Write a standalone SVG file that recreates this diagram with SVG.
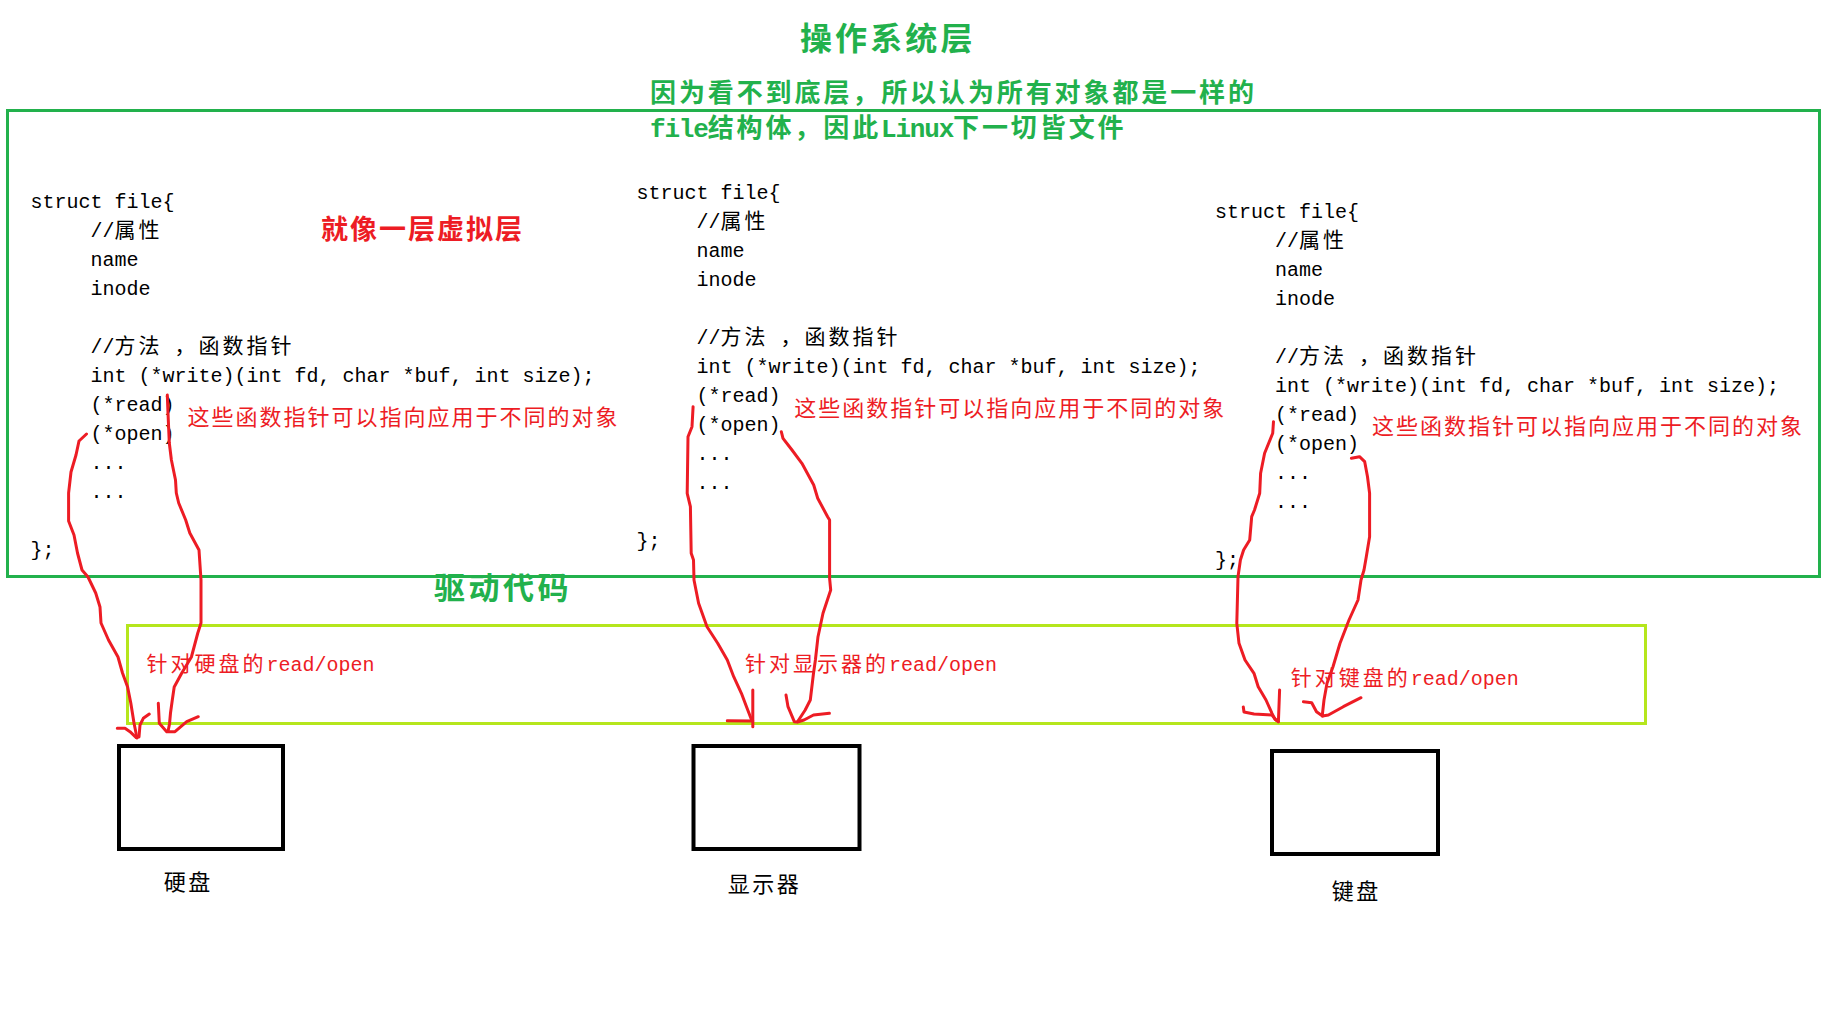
<svg xmlns="http://www.w3.org/2000/svg" width="1833" height="1025" viewBox="0 0 1833 1025">
<style>
.g{font-family:"Noto Sans CJK SC",sans-serif;font-weight:bold;fill:#22b14c}
.gm{font-family:"Liberation Mono",monospace;font-weight:bold}
.code{font-family:"Liberation Mono","Noto Sans CJK SC",monospace;font-size:20px;fill:#000}
.cj{font-family:"Noto Sans CJK SC",sans-serif;font-size:21px;letter-spacing:3px}
.note{font-family:"Noto Sans CJK SC",sans-serif;font-size:22px;letter-spacing:2px;fill:#ed1c24}
.lbl{font-family:"Liberation Mono","Noto Sans CJK SC",monospace;font-size:20px;fill:#ed1c24}
.dev{font-family:"Noto Sans CJK SC",sans-serif;font-size:22px;letter-spacing:2.5px;fill:#000}
.box{fill:none;stroke:#000;stroke-width:4}
.pen{fill:none;stroke:#ed1c24;stroke-width:3;stroke-linecap:round;stroke-linejoin:round}
</style>
<rect width="1833" height="1025" fill="#fff"/>

<g id="os-layer">
<rect x="7.5" y="110.5" width="1812" height="466" fill="none" stroke="#22b14c" stroke-width="3"/>
<text class="g" x="800" y="50" font-size="32" letter-spacing="3.1">操作系统层</text>
<text class="g" x="650" y="101.5" font-size="26" letter-spacing="2.9">因为看不到底层，所以认为所有对象都是一样的</text>
<text class="g" x="650" y="136.5" font-size="26" letter-spacing="2.9"><tspan class="gm" font-size="26" letter-spacing="-1.2">file</tspan>结构体，因此<tspan class="gm" font-size="26" letter-spacing="-1.2">Linux</tspan>下一切皆文件</text>
<text x="321" y="239" font-family="Noto Sans CJK SC, sans-serif" font-weight="bold" font-size="27" letter-spacing="2" fill="#ed1c24">就像一层虚拟层</text>
</g>

<g id="file-struct-1">
<text class="code" x="30.5" y="208.3">struct file{</text>
<text class="code" x="90.5" y="237.3">//<tspan class="cj">属性</tspan></text>
<text class="code" x="90.5" y="266.3">name</text>
<text class="code" x="90.5" y="295.3">inode</text>
<text class="code" x="90.5" y="353.3">//<tspan class="cj">方法</tspan> <tspan class="cj">，函数指针</tspan></text>
<text class="code" x="90.5" y="382.3">int (*write)(int fd, char *buf, int size);</text>
<text class="code" x="90.5" y="411.3">(*read)</text>
<text class="code" x="90.5" y="440.3">(*open)</text>
<text class="code" x="90.5" y="469.3">...</text>
<text class="code" x="90.5" y="498.3">...</text>
<text class="code" x="30.5" y="556.3">};</text>
<text class="note" x="187.6" y="424.5">这些函数指针可以指向应用于不同的对象</text>
</g>

<g id="file-struct-2">
<text class="code" x="636.5" y="199">struct file{</text>
<text class="code" x="696.5" y="228">//<tspan class="cj">属性</tspan></text>
<text class="code" x="696.5" y="257">name</text>
<text class="code" x="696.5" y="286">inode</text>
<text class="code" x="696.5" y="344">//<tspan class="cj">方法</tspan> <tspan class="cj">，函数指针</tspan></text>
<text class="code" x="696.5" y="373">int (*write)(int fd, char *buf, int size);</text>
<text class="code" x="696.5" y="402">(*read)</text>
<text class="code" x="696.5" y="431">(*open)</text>
<text class="code" x="696.5" y="460">...</text>
<text class="code" x="696.5" y="489">...</text>
<text class="code" x="636.5" y="547">};</text>
<text class="note" x="794.3" y="415.5">这些函数指针可以指向应用于不同的对象</text>
</g>

<g id="file-struct-3">
<text class="code" x="1215" y="217.5">struct file{</text>
<text class="code" x="1275" y="246.5">//<tspan class="cj">属性</tspan></text>
<text class="code" x="1275" y="275.5">name</text>
<text class="code" x="1275" y="304.5">inode</text>
<text class="code" x="1275" y="362.5">//<tspan class="cj">方法</tspan> <tspan class="cj">，函数指针</tspan></text>
<text class="code" x="1275" y="391.5">int (*write)(int fd, char *buf, int size);</text>
<text class="code" x="1275" y="420.5">(*read)</text>
<text class="code" x="1275" y="449.5">(*open)</text>
<text class="code" x="1275" y="478.5">...</text>
<text class="code" x="1275" y="507.5">...</text>
<text class="code" x="1215" y="565.5">};</text>
<text class="note" x="1372" y="434">这些函数指针可以指向应用于不同的对象</text>
</g>

<g id="driver-layer">
<rect x="127.5" y="625.5" width="1518" height="98" fill="none" stroke="#b5e61d" stroke-width="3"/>
<text class="g" x="434" y="598.5" font-size="31" letter-spacing="3.5">驱动代码</text>
<text class="lbl" x="146.5" y="670.5"><tspan class="cj">针对硬盘的</tspan>read/open</text>
<text class="lbl" x="745" y="670.5"><tspan class="cj">针对显示器的</tspan>read/open</text>
<text class="lbl" x="1290.8" y="685"><tspan class="cj">针对键盘的</tspan>read/open</text>
</g>

<g id="disk">
<rect class="box" x="119" y="746" width="164" height="103"/>
<text class="dev" x="163.7" y="890">硬盘</text>
</g>
<g id="display">
<rect class="box" x="693.5" y="746" width="166" height="103"/>
<text class="dev" x="727.7" y="891.5">显示器</text>
</g>
<g id="keyboard">
<rect class="box" x="1272" y="751" width="166" height="103"/>
<text class="dev" x="1331.7" y="899">键盘</text>
</g>

<g id="connectors">
<path class="pen" d="M86.5,434 L79,441 L76,455 L71,472 L68.6,493 L68.6,521 L74,535 L77.5,553 L82,570 L88,577 L95.7,593 L100,607 L101,623 L108.5,640 L118,657 L122.5,673 L127.6,687 L130.8,703 L134,723 L137,738"/>
<path class="pen" d="M117.3,728.3 L125,728.3 L130,731.7 L136,737.5"/>
<path class="pen" d="M149.3,714 L143.3,718.3 L140,725 L139,737"/>
<path class="pen" d="M167.3,395 L168,413 L169.3,443 L171.4,460 L175.5,480 L176.3,493 L178.7,503 L185.7,520 L189.8,533 L199,550 L200,565 L201,580 L201,623 L197.8,633 L191.4,657 L181.8,673 L174.2,687 L172.3,700 L170.5,713 L169.5,724 L168.3,730"/>
<path class="pen" d="M158.3,703.3 L159.3,723.3 L166.7,731.7 L175,731.7 L186.7,721.7 L198.3,716.7"/>
<path class="pen" d="M693.1,406.7 L692,426.7 L688,436.7 L687.2,493.3 L690.4,506.7 L691.2,553.3 L693.5,560 L694,580 L698.6,603.3 L707,626.7 L717.7,643.3 L727.3,660 L733.7,676.7 L741.4,693.3 L746.5,706.7 L751.6,720"/>
<path class="pen" d="M752.8,690 L752.8,726.7"/>
<path class="pen" d="M727.3,720.7 L752.8,721"/>
<path class="pen" d="M781.3,431.7 L783,438.3 L792,450 L801.9,463.3 L813.7,485 L817.7,498.3 L827.6,516.7 L829.6,520 L829.6,578.3 L830.7,590 L823,613.3 L818,636.7 L815.4,660 L813.5,673.3 L810.3,700 L805.2,710 L797.5,721.7"/>
<path class="pen" d="M786,695 L788,706.7 L794.3,721.7 L797.5,722 L804,720 L813.5,715 L829.4,713.3"/>
<path class="pen" d="M1273.5,421.7 L1272.7,433.3 L1264.6,453.3 L1260.6,473.3 L1259.7,493.3 L1254.5,510 L1251.7,516.7 L1249.7,540 L1243.6,550 L1240.4,560 L1238,576.7 L1236.8,623.3 L1239,643.3 L1245,660 L1254,673.3 L1258.2,686.7 L1266,700 L1272,713.3 L1275,719.3 L1278.4,721.7"/>
<path class="pen" d="M1279.6,690 L1278.4,721.7"/>
<path class="pen" d="M1243.3,707 L1244,712 L1254,714 L1271.9,715 L1276,720"/>
<path class="pen" d="M1351.4,458.3 L1359.5,456.7 L1364.7,461.7 L1367.5,476.7 L1369.6,493.3 L1369.6,536.7 L1366.3,556.7 L1364,570 L1361,580 L1358,600 L1349,620 L1340,643.3 L1333,666.7 L1327,683.3 L1324,700 L1322.5,713.3 L1322.5,716"/>
<path class="pen" d="M1303.4,701.7 L1311.7,702.7 L1316.5,711.7 L1322.5,716 L1328.4,715 L1343.3,706.7 L1361,697.7"/>
</g>
</svg>
